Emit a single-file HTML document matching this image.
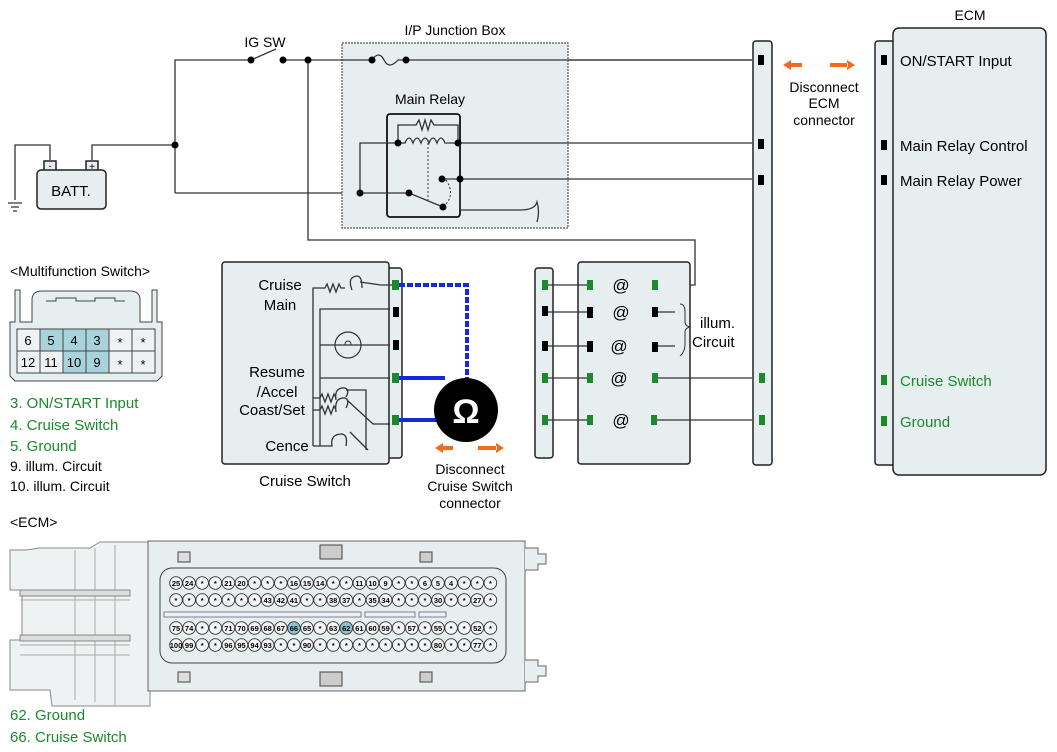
<!DOCTYPE html>
<html><head><meta charset="utf-8"><style>
body{margin:0;background:#fff}
svg{display:block;font-family:"Liberation Sans",sans-serif}
.w{stroke:#333;stroke-width:1.3;fill:none}
.f{fill:#e6eef0;stroke:#222;stroke-width:1.5}
.p circle{fill:#f2f5f5;stroke:#333;stroke-width:.9}
.p text{font-size:7.5px;text-anchor:middle}
</style></head><body>
<svg width="1057" height="752" viewBox="0 0 1057 752">
<text x="265" y="47" font-size="14" text-anchor="middle">IG SW</text>
<path class="w" d="M175 193V60H251M283 60H752M308 60V240H695V285H657M175 193H360M92 160V145H175M50 160V145H15V200"/>
<path class="w" d="M8 203H22M11 207H19M13 211H17"/>
<line x1="251" y1="60" x2="276" y2="49" class="w"/>
<circle cx="251" cy="60" r="3.5"/><circle cx="283" cy="60" r="3.5"/><circle cx="308" cy="60" r="3.5"/><circle cx="175" cy="145" r="3.5"/>
<rect x="44" y="161" width="12" height="10" class="f" stroke-width="1"/><rect x="86" y="161" width="12" height="10" class="f" stroke-width="1"/>
<text x="50" y="169" font-size="9" text-anchor="middle">-</text><text x="92" y="170" font-size="10" text-anchor="middle">+</text>
<rect x="37" y="170" width="69" height="39" rx="4" class="f" stroke-width="1.2"/>
<text x="71" y="196" font-size="15" text-anchor="middle">BATT.</text>
<text x="455" y="35" font-size="14" text-anchor="middle">I/P Junction Box</text>
<rect x="342" y="43" width="226" height="185" fill="#e6eef0" stroke="#555" stroke-width="1.2" stroke-dasharray="2,1"/>
<path class="w" d="M342 60H372M405 60H752"/>
<path class="w" d="M372 60Q379 50 384 60T398 60L405 60" />
<circle cx="372" cy="60" r="3.5"/><circle cx="406" cy="60" r="3.5"/>
<text x="430" y="104" font-size="14" text-anchor="middle">Main Relay</text>
<rect x="387" y="114" width="73" height="103" rx="3" fill="none" stroke="#111" stroke-width="1.8"/>
<path class="w" d="M398 143V125H416L419 120 422 130 425 120 428 130 431 120 434 125H458V143M398 143H405Q409 133 413 143Q417 133 421 143Q425 133 429 143Q433 133 437 143Q441 133 445 143H458M458 143H752M398 143H360V193H409L443 207M442 179H752M460 179V210H520Q535 210 537 202Q540 212 537 222"/>
<line x1="428" y1="143" x2="428" y2="200" stroke="#333" stroke-dasharray="2,2"/>
<path d="M446 180Q456 195 444 206" fill="none" stroke="#333" stroke-dasharray="2,2"/>
<circle cx="398" cy="143" r="3.5"/><circle cx="458" cy="143" r="3.5"/><circle cx="360" cy="193" r="3.5"/><circle cx="409" cy="193" r="3.5"/><circle cx="443" cy="207" r="3.5"/><circle cx="442" cy="179" r="3.5"/><circle cx="460" cy="179" r="3.5"/>
<rect x="753" y="41" width="19" height="424" rx="3" class="f" stroke-width="1.2"/>
<rect x="758" y="55" width="6" height="10"/><rect x="758" y="139" width="6" height="10"/><rect x="758" y="175" width="6" height="10"/>
<rect x="759" y="373" width="6" height="10" fill="#1a8a2a"/><rect x="759" y="415" width="6" height="10" fill="#1a8a2a"/>
<path d="M783 65l8-5v10zM789 63h13v4h-13zM855 65l-8-5v10zM830 63h18v4h-18z" fill="#f26a1b"/>
<text font-size="14" text-anchor="middle"><tspan x="824" y="92">Disconnect</tspan><tspan x="824" y="108">ECM</tspan><tspan x="824" y="125">connector</tspan></text>
<text x="970" y="20" font-size="14" text-anchor="middle">ECM</text>
<rect x="875" y="41" width="22" height="424" rx="3" class="f" stroke-width="1.2"/>
<rect x="893" y="28" width="153" height="447" rx="6" class="f"/>
<rect x="881" y="55" width="6" height="10"/><rect x="881" y="140" width="6" height="10"/><rect x="881" y="175" width="6" height="10"/>
<rect x="881" y="375" width="6" height="10" fill="#1a8a2a"/><rect x="881" y="416" width="6" height="10" fill="#1a8a2a"/>
<g font-size="15"><text x="900" y="66">ON/START Input</text><text x="900" y="151">Main Relay Control</text><text x="900" y="186">Main Relay Power</text>
<text x="900" y="386" fill="#1a8a2a">Cruise Switch</text><text x="900" y="427" fill="#1a8a2a">Ground</text></g>
<rect x="385" y="268" width="17" height="190" rx="3" class="f" stroke-width="1.2"/>
<rect x="222" y="262" width="167" height="202" rx="3" class="f"/>
<g font-size="15" text-anchor="middle"><text x="280" y="290">Cruise</text><text x="280" y="310">Main</text><text x="277" y="377">Resume</text><text x="277" y="397">/Accel</text><text x="272" y="415">Coast/Set</text><text x="287" y="451">Cence</text></g>
<path class="w" stroke="#555" d="M313 446V288H325L327 284 330 292 333 284 336 292 339 284 341 288H345M352 290Q347 277 357 276Q362 276 362 288M360 282L381 285H393M320 446V309H390M320 345H390M320 378H390M313 398H320L322 394 325 402 328 394 331 402 334 394 336 398M336 400Q334 387 345 388Q350 390 346 397M313 410H320L322 406 325 414 328 406 331 414 334 406 336 410M336 412Q334 397 345 398Q350 400 346 408M346 390H366V450M347 400L373 424H390M313 446H332Q330 434 342 434Q348 435 346 446M350 432L368 450"/>
<circle cx="348" cy="345" r="13" fill="none" stroke="#333" stroke-width="1.2"/>
<path d="M342 345h3q0-4 3-4 3 0 3 4h3" fill="none" stroke="#333"/>
<rect x="392" y="280" width="7" height="10" fill="#1a8a2a"/><rect x="393" y="307" width="6" height="10"/><rect x="393" y="340" width="6" height="10"/><rect x="392" y="373" width="7" height="10" fill="#1a8a2a"/><rect x="392" y="415" width="7" height="10" fill="#1a8a2a"/>
<text x="305" y="486" font-size="15" text-anchor="middle">Cruise Switch</text>
<path d="M399 285H467V378" fill="none" stroke="#1428e0" stroke-width="4" stroke-dasharray="6,2"/>
<path d="M399 378H445M399 420H440" fill="none" stroke="#1428e0" stroke-width="4"/>
<circle cx="466" cy="410" r="32" fill="#000"/>
<text x="466" y="423" font-size="34" fill="#fff" text-anchor="middle" font-weight="bold">Ω</text>
<path d="M435 448l8-5v10zM441 446h12v4h-12zM504 448l-8-5v10zM478 446h19v4h-19z" fill="#f26a1b"/>
<text font-size="14" text-anchor="middle"><tspan x="470" y="474">Disconnect</tspan><tspan x="470" y="491">Cruise Switch</tspan><tspan x="470" y="508">connector</tspan></text>
<rect x="535" y="268" width="18" height="190" rx="3" class="f" stroke-width="1.2"/>
<rect x="578" y="262" width="112" height="202" rx="3" class="f"/>
<path class="w" d="M545 285H590M545 312H590M545 346H590M545 378H590M545 420H590M655 312H675M655 346H675M655 378H752M655 420H752"/>
<g fill="#1a8a2a"><rect x="542" y="280" width="6" height="10"/><rect x="587" y="280" width="6" height="10"/><rect x="652" y="280" width="6" height="10"/><rect x="542" y="373" width="6" height="10"/><rect x="587" y="373" width="6" height="10"/><rect x="652" y="373" width="6" height="10"/><rect x="542" y="415" width="6" height="10"/><rect x="587" y="415" width="6" height="10"/><rect x="651" y="415" width="6" height="10"/></g>
<rect x="542" y="306" width="6" height="10"/><rect x="587" y="307" width="6" height="11"/><rect x="652" y="307" width="6" height="10"/><rect x="542" y="341" width="6" height="10"/><rect x="587" y="341" width="6" height="11"/><rect x="652" y="342" width="6" height="10"/>
<g font-size="17" text-anchor="middle"><text x="621" y="291">@</text><text x="621" y="318">@</text><text x="619" y="352">@</text><text x="619" y="384">@</text><text x="621" y="426">@</text></g>
<path d="M680 304q5 0 5 8v10q0 4 5 5q-5 1-5 5v12q0 8-5 12" fill="none" stroke="#333"/>
<text x="700" y="328" font-size="15">illum.</text><text x="692" y="347" font-size="15">Circuit</text>
<text x="10" y="276" font-size="14">&lt;Multifunction Switch&gt;</text>
<path d="M15 290V322H10V376L15 381H157L162 376V322H157V290H152V322H140V300Q140 291 130 291H42Q32 291 32 300V322H20V290Z" fill="#e6eef0" stroke="#444"/>
<path d="M46 301h10v-3h20v3h19v-3h20v3h10" fill="none" stroke="#444"/>
<g stroke="#444" fill="#eef2f3"><rect x="17" y="329" width="23" height="22"/><rect x="40" y="329" width="23" height="22" fill="#a9d3dc"/><rect x="63" y="329" width="23" height="22" fill="#a9d3dc"/><rect x="86" y="329" width="23" height="22" fill="#a9d3dc"/><rect x="109" y="329" width="23" height="22"/><rect x="132" y="329" width="23" height="22"/>
<rect x="17" y="351" width="23" height="22"/><rect x="40" y="351" width="23" height="22"/><rect x="63" y="351" width="23" height="22" fill="#a9d3dc"/><rect x="86" y="351" width="23" height="22" fill="#a9d3dc"/><rect x="109" y="351" width="23" height="22"/><rect x="132" y="351" width="23" height="22"/></g>
<g font-size="13" text-anchor="middle"><text x="28" y="345">6</text><text x="51" y="345">5</text><text x="74" y="345">4</text><text x="97" y="345">3</text><text x="120" y="347">*</text><text x="143" y="347">*</text><text x="28" y="367">12</text><text x="51" y="367">11</text><text x="74" y="367">10</text><text x="97" y="367">9</text><text x="120" y="369">*</text><text x="143" y="369">*</text></g>
<g font-size="15"><text x="10" y="408" fill="#1a8a2a">3. ON/START Input</text><text x="10" y="430" fill="#1a8a2a">4. Cruise Switch</text><text x="10" y="451" fill="#1a8a2a">5. Ground</text></g>
<g font-size="14"><text x="10" y="471">9. illum. Circuit</text><text x="10" y="491">10. illum. Circuit</text></g>
<text x="10" y="527" font-size="14">&lt;ECM&gt;</text>
<path d="M26 550H10V590H22V640H10V690H50L52 706H150V542H100L90 548H40Z" fill="#eef2f3" stroke="#888"/>
<path d="M75 550V700M95 548V702M115 545V705M20 590H130M20 645H130M20 600H130M20 655H130" stroke="#aaa" fill="none"/>
<rect x="20" y="590" width="110" height="6" fill="#ddd" stroke="#888"/><rect x="20" y="635" width="110" height="6" fill="#ddd" stroke="#888"/>
<rect x="148" y="541" width="377" height="150" fill="#e6eef0" stroke="#666"/>
<path d="M525 548h13v6h8v10h-8v6h-13M525 660h13v6h8v10h-8v6h-13" fill="#e6eef0" stroke="#666"/>
<rect x="160" y="568" width="346" height="95" rx="12" fill="#e6eef0" stroke="#444"/>
<rect x="164" y="612" width="197" height="5" fill="#eef" stroke="#666" stroke-width=".8"/><rect x="365" y="612" width="50" height="5" fill="#eef" stroke="#666" stroke-width=".8"/><rect x="419" y="612" width="27" height="5" fill="#eef" stroke="#666" stroke-width=".8"/>
<rect x="320" y="545" width="22" height="14" fill="#ccc" stroke="#444"/><rect x="320" y="672" width="22" height="14" fill="#ccc" stroke="#444"/><rect x="420" y="552" width="12" height="10" fill="#ccc" stroke="#444"/><rect x="420" y="672" width="12" height="10" fill="#ccc" stroke="#444"/><rect x="178" y="552" width="12" height="10" fill="#ddd" stroke="#444"/><rect x="178" y="672" width="12" height="10" fill="#ddd" stroke="#444"/>
<g class="p">
<g><circle cx="176" cy="583" r="6.3"/><circle cx="189.1" cy="583" r="6.3"/><circle cx="202.2" cy="583" r="6.3"/><circle cx="215.3" cy="583" r="6.3"/><circle cx="228.4" cy="583" r="6.3"/><circle cx="241.5" cy="583" r="6.3"/><circle cx="254.6" cy="583" r="6.3"/><circle cx="267.7" cy="583" r="6.3"/><circle cx="280.8" cy="583" r="6.3"/><circle cx="293.9" cy="583" r="6.3"/><circle cx="307" cy="583" r="6.3"/><circle cx="320.1" cy="583" r="6.3"/><circle cx="333.2" cy="583" r="6.3"/><circle cx="346.3" cy="583" r="6.3"/><circle cx="359.4" cy="583" r="6.3"/><circle cx="372.5" cy="583" r="6.3"/><circle cx="385.6" cy="583" r="6.3"/><circle cx="398.7" cy="583" r="6.3"/><circle cx="411.8" cy="583" r="6.3"/><circle cx="424.9" cy="583" r="6.3"/><circle cx="438" cy="583" r="6.3"/><circle cx="451.1" cy="583" r="6.3"/><circle cx="464.2" cy="583" r="6.3"/><circle cx="477.3" cy="583" r="6.3"/><circle cx="490.4" cy="583" r="6.3"/></g>
<g><circle cx="176" cy="600" r="6.3"/><circle cx="189.1" cy="600" r="6.3"/><circle cx="202.2" cy="600" r="6.3"/><circle cx="215.3" cy="600" r="6.3"/><circle cx="228.4" cy="600" r="6.3"/><circle cx="241.5" cy="600" r="6.3"/><circle cx="254.6" cy="600" r="6.3"/><circle cx="267.7" cy="600" r="6.3"/><circle cx="280.8" cy="600" r="6.3"/><circle cx="293.9" cy="600" r="6.3"/><circle cx="307" cy="600" r="6.3"/><circle cx="320.1" cy="600" r="6.3"/><circle cx="333.2" cy="600" r="6.3"/><circle cx="346.3" cy="600" r="6.3"/><circle cx="359.4" cy="600" r="6.3"/><circle cx="372.5" cy="600" r="6.3"/><circle cx="385.6" cy="600" r="6.3"/><circle cx="398.7" cy="600" r="6.3"/><circle cx="411.8" cy="600" r="6.3"/><circle cx="424.9" cy="600" r="6.3"/><circle cx="438" cy="600" r="6.3"/><circle cx="451.1" cy="600" r="6.3"/><circle cx="464.2" cy="600" r="6.3"/><circle cx="477.3" cy="600" r="6.3"/><circle cx="490.4" cy="600" r="6.3"/></g>
<g><circle cx="176" cy="628" r="6.3"/><circle cx="189.1" cy="628" r="6.3"/><circle cx="202.2" cy="628" r="6.3"/><circle cx="215.3" cy="628" r="6.3"/><circle cx="228.4" cy="628" r="6.3"/><circle cx="241.5" cy="628" r="6.3"/><circle cx="254.6" cy="628" r="6.3"/><circle cx="267.7" cy="628" r="6.3"/><circle cx="280.8" cy="628" r="6.3"/><circle cx="293.9" cy="628" r="6.3" style="fill:#8cc3cf"/><circle cx="307" cy="628" r="6.3"/><circle cx="320.1" cy="628" r="6.3"/><circle cx="333.2" cy="628" r="6.3"/><circle cx="346.3" cy="628" r="6.3" style="fill:#8cc3cf"/><circle cx="359.4" cy="628" r="6.3"/><circle cx="372.5" cy="628" r="6.3"/><circle cx="385.6" cy="628" r="6.3"/><circle cx="398.7" cy="628" r="6.3"/><circle cx="411.8" cy="628" r="6.3"/><circle cx="424.9" cy="628" r="6.3"/><circle cx="438" cy="628" r="6.3"/><circle cx="451.1" cy="628" r="6.3"/><circle cx="464.2" cy="628" r="6.3"/><circle cx="477.3" cy="628" r="6.3"/><circle cx="490.4" cy="628" r="6.3"/></g>
<g><circle cx="176" cy="645" r="6.3"/><circle cx="189.1" cy="645" r="6.3"/><circle cx="202.2" cy="645" r="6.3"/><circle cx="215.3" cy="645" r="6.3"/><circle cx="228.4" cy="645" r="6.3"/><circle cx="241.5" cy="645" r="6.3"/><circle cx="254.6" cy="645" r="6.3"/><circle cx="267.7" cy="645" r="6.3"/><circle cx="280.8" cy="645" r="6.3"/><circle cx="293.9" cy="645" r="6.3"/><circle cx="307" cy="645" r="6.3"/><circle cx="320.1" cy="645" r="6.3"/><circle cx="333.2" cy="645" r="6.3"/><circle cx="346.3" cy="645" r="6.3"/><circle cx="359.4" cy="645" r="6.3"/><circle cx="372.5" cy="645" r="6.3"/><circle cx="385.6" cy="645" r="6.3"/><circle cx="398.7" cy="645" r="6.3"/><circle cx="411.8" cy="645" r="6.3"/><circle cx="424.9" cy="645" r="6.3"/><circle cx="438" cy="645" r="6.3"/><circle cx="451.1" cy="645" r="6.3"/><circle cx="464.2" cy="645" r="6.3"/><circle cx="477.3" cy="645" r="6.3"/><circle cx="490.4" cy="645" r="6.3"/></g>
<g font-weight="bold">
<text y="586"><tspan x="176">25</tspan><tspan x="189.1">24</tspan><tspan x="202.2">*</tspan><tspan x="215.3">*</tspan><tspan x="228.4">21</tspan><tspan x="241.5">20</tspan><tspan x="254.6">*</tspan><tspan x="267.7">*</tspan><tspan x="280.8">*</tspan><tspan x="293.9">16</tspan><tspan x="307">15</tspan><tspan x="320.1">14</tspan><tspan x="333.2">*</tspan><tspan x="346.3">*</tspan><tspan x="359.4">11</tspan><tspan x="372.5">10</tspan><tspan x="385.6">9</tspan><tspan x="398.7">*</tspan><tspan x="411.8">*</tspan><tspan x="424.9">6</tspan><tspan x="438">5</tspan><tspan x="451.1">4</tspan><tspan x="464.2">*</tspan><tspan x="477.3">*</tspan><tspan x="490.4">*</tspan></text>
<text y="603"><tspan x="176">*</tspan><tspan x="189.1">*</tspan><tspan x="202.2">*</tspan><tspan x="215.3">*</tspan><tspan x="228.4">*</tspan><tspan x="241.5">*</tspan><tspan x="254.6">*</tspan><tspan x="267.7">43</tspan><tspan x="280.8">42</tspan><tspan x="293.9">41</tspan><tspan x="307">*</tspan><tspan x="320.1">*</tspan><tspan x="333.2">38</tspan><tspan x="346.3">37</tspan><tspan x="359.4">*</tspan><tspan x="372.5">35</tspan><tspan x="385.6">34</tspan><tspan x="398.7">*</tspan><tspan x="411.8">*</tspan><tspan x="424.9">*</tspan><tspan x="438">30</tspan><tspan x="451.1">*</tspan><tspan x="464.2">*</tspan><tspan x="477.3">27</tspan><tspan x="490.4">*</tspan></text>
<text y="631"><tspan x="176">75</tspan><tspan x="189.1">74</tspan><tspan x="202.2">*</tspan><tspan x="215.3">*</tspan><tspan x="228.4">71</tspan><tspan x="241.5">70</tspan><tspan x="254.6">69</tspan><tspan x="267.7">68</tspan><tspan x="280.8">67</tspan><tspan x="293.9">66</tspan><tspan x="307">65</tspan><tspan x="320.1">*</tspan><tspan x="333.2">63</tspan><tspan x="346.3">62</tspan><tspan x="359.4">61</tspan><tspan x="372.5">60</tspan><tspan x="385.6">59</tspan><tspan x="398.7">*</tspan><tspan x="411.8">57</tspan><tspan x="424.9">*</tspan><tspan x="438">55</tspan><tspan x="451.1">*</tspan><tspan x="464.2">*</tspan><tspan x="477.3">52</tspan><tspan x="490.4">*</tspan></text>
<text y="648"><tspan x="176">100</tspan><tspan x="189.1">99</tspan><tspan x="202.2">*</tspan><tspan x="215.3">*</tspan><tspan x="228.4">96</tspan><tspan x="241.5">95</tspan><tspan x="254.6">94</tspan><tspan x="267.7">93</tspan><tspan x="280.8">*</tspan><tspan x="293.9">*</tspan><tspan x="307">90</tspan><tspan x="320.1">*</tspan><tspan x="333.2">*</tspan><tspan x="346.3">*</tspan><tspan x="359.4">*</tspan><tspan x="372.5">*</tspan><tspan x="385.6">*</tspan><tspan x="398.7">*</tspan><tspan x="411.8">*</tspan><tspan x="424.9">*</tspan><tspan x="438">80</tspan><tspan x="451.1">*</tspan><tspan x="464.2">*</tspan><tspan x="477.3">77</tspan><tspan x="490.4">*</tspan></text>
</g>
</g>
<g font-size="15" fill="#1a8a2a"><text x="10" y="720">62. Ground</text><text x="10" y="742">66. Cruise Switch</text></g>
</svg>
</body></html>
